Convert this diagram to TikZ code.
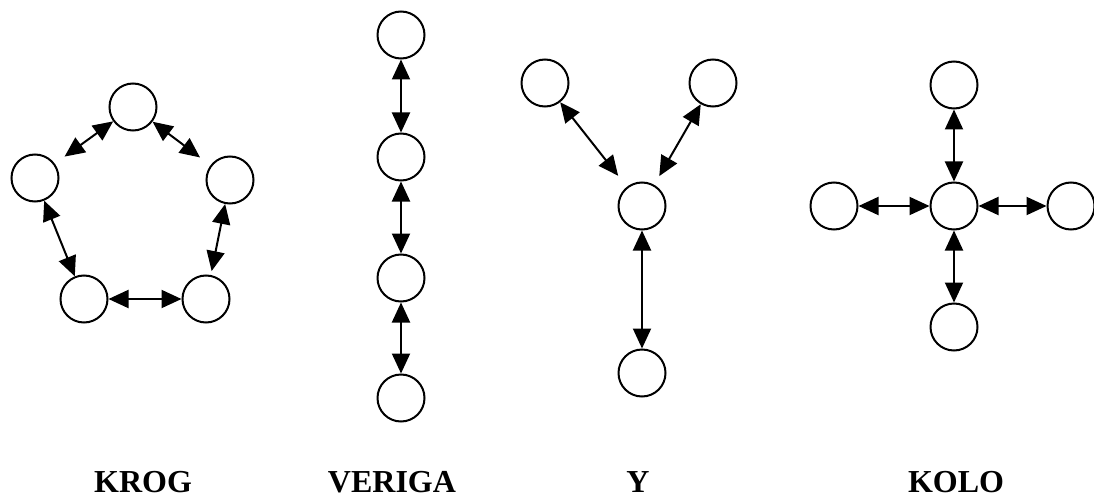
\documentclass[tikz,border=0pt]{standalone}
\usepackage{fontspec}
\setmainfont{Liberation Serif}
\usetikzlibrary{arrows.meta}
\begin{document}
\begin{tikzpicture}[x=1pt,y=-1pt,
  nd/.style={circle,draw,line width=2pt,minimum size=47pt,inner sep=0pt},
  link/.style={line width=2pt,{Triangle[length=20pt,width=18pt]}-{Triangle[length=20pt,width=18pt]}},
  lbl/.style={font=\bfseries\fontsize{32}{36}\selectfont,anchor=base,inner sep=0pt}]
\useasboundingbox (0,0) rectangle (1094,497);
% KROG
\node[nd] (k1) at (133,107) {};
\node[nd] (k2) at (35,178) {};
\node[nd] (k3) at (230,180) {};
\node[nd] (k4) at (84,299) {};
\node[nd] (k5) at (206,299) {};
\draw[link,shorten >=12pt] (k1) -- (k2);
\draw[link,shorten >=13pt] (k1) -- (k3);
\draw[link] (k2) -- (k4);
\draw[link,shorten <=4pt] (k5) -- (k3);
\draw[link] (k4) -- (k5);
% VERIGA
\node[nd] (v1) at (401,35) {};
\node[nd] (v2) at (401,157) {};
\node[nd] (v3) at (401,278) {};
\node[nd] (v4) at (401,398) {};
\draw[link] (v1) -- (v2);
\draw[link] (v2) -- (v3);
\draw[link] (v3) -- (v4);
% Y
\node[nd] (y1) at (545,83) {};
\node[nd] (y2) at (713,83) {};
\node[nd] (y3) at (642,206) {};
\node[nd] (y4) at (642,373) {};
\draw[link,shorten >=14pt] (y1) -- (y3);
\draw[link,shorten >=10pt] (y2) -- (y3);
\draw[link] (y3) -- (y4);
% KOLO
\node[nd] (c0) at (954,206) {};
\node[nd] (ct) at (954,85) {};
\node[nd] (cl) at (834,206) {};
\node[nd] (cr) at (1071,206) {};
\node[nd] (cb) at (954,327) {};
\draw[link] (ct) -- (c0);
\draw[link] (cl) -- (c0);
\draw[link] (c0) -- (cr);
\draw[link] (c0) -- (cb);
% labels
\node[lbl] (lk) at (143,492) {KROG};
\node[lbl] (lv) at (392,492) {VERIGA};
\node[lbl] (ly) at (638,492) {Y};
\node[lbl] (lo) at (956,492) {KOLO};
\end{tikzpicture}
\end{document}
